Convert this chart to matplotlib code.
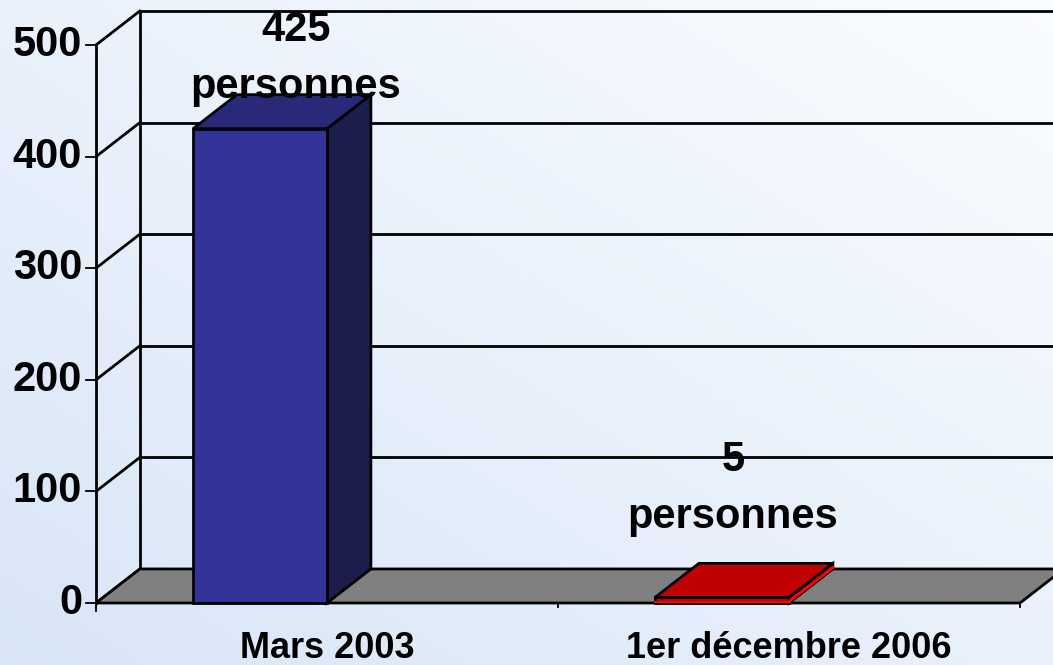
import matplotlib
matplotlib.use("Agg")
import matplotlib.pyplot as plt
import numpy as np
from matplotlib.patches import Polygon

# data
categories = ["Mars 2003", "1er décembre 2006"]
values = [425, 5]
value_labels = ["425\npersonnes", "5\npersonnes"]
y_ticks = [0, 100, 200, 300, 400, 500]

# look of each bar: front, top, side
bar_colors = [("#333399", "#29297A", "#1D1D4D"), ("#C00000", "#C00000", "#C00000")]
bar_edges = ["black", "black"]
# label placement relative to the bar (category units, value units)
label_dx = [-0.068, -0.121]
label_dy = [63, 98]

# 3d offsets (category units / value units)
DX = 0.095
DY = 30.5
BAR_W = 0.29
YMAX = 500

FONT = "Liberation Sans"

fig = plt.figure(figsize=(10.53, 6.65), dpi=100)

# background gradient
bg = fig.add_axes([0, 0, 1, 1], zorder=0)
gx, gy = np.meshgrid(np.linspace(0, 1, 200), np.linspace(0, 1, 200))
t = np.clip((gx + (1 - gy)) / 2, 0, 1)
c0 = np.array([0.85, 0.90, 0.97])
c1 = np.array([0.98, 0.99, 1.0])
img = c0[None, None, :] * (1 - t[..., None]) + c1[None, None, :] * t[..., None]
bg.imshow(img, extent=[0, 1, 0, 1], aspect="auto", origin="upper")
bg.axis("off")

ax = fig.add_axes([96 / 1053, (665 - 603) / 665, 924 / 1053, 558 / 665], zorder=1)
ax.set_xlim(0, len(categories))
ax.set_ylim(0, YMAX)
ax.patch.set_alpha(0)
for s in ax.spines.values():
    s.set_visible(False)
ax.set_xticks([])
ax.set_yticks([])

n = len(categories)
lw = 2.0

# floor
floor = Polygon([(0, 0), (n, 0), (n + DX, DY), (DX, DY)], closed=True,
                facecolor="#808080", edgecolor="black", lw=lw, clip_on=False, zorder=2)
ax.add_patch(floor)

# back wall gridlines + side wall diagonals
for v in y_ticks:
    if v > 0:
        ax.plot([DX, n + DX + 0.2], [v + DY, v + DY], color="black", lw=lw,
                clip_on=False, zorder=1.5)
    ax.plot([0, DX], [v, v + DY], color="black", lw=lw, clip_on=False, zorder=1.5)
ax.plot([DX, DX], [DY, YMAX + DY], color="black", lw=lw, clip_on=False, zorder=1.5)
ax.plot([0, 0], [0, YMAX], color="black", lw=lw, clip_on=False, zorder=4)

# y ticks
for v in y_ticks:
    ax.plot([-0.022, 0], [v, v], color="black", lw=1.3, clip_on=False, zorder=4)
    ax.text(-0.03, v, str(v), ha="right", va="center", fontsize=30,
            fontweight="bold", family=FONT)
ax.plot([0, 0], [0, -7], color="black", lw=1.3, clip_on=False, zorder=4)

# x axis ticks + labels
for i in range(n + 1):
    ax.plot([i, i], [0, -4], color="black", lw=1.3, clip_on=False, zorder=4)
for i, cat in enumerate(categories):
    ax.text(i + 0.5, -41, cat, ha="center", va="center", fontsize=26,
            fontweight="bold", family=FONT)

# bars
for i, (v, lab) in enumerate(zip(values, value_labels)):
    right = i + 0.5
    left = right - BAR_W
    front_c, top_c, side_c = bar_colors[i]
    ec = bar_edges[i]
    side = Polygon([(right, 0), (right + DX, DY), (right + DX, v + DY), (right, v)],
                   closed=True, facecolor=side_c, edgecolor=ec, lw=lw, zorder=3)
    top = Polygon([(left, v), (right, v), (right + DX, v + DY), (left + DX, v + DY)],
                  closed=True, facecolor=top_c, edgecolor=ec, lw=lw, zorder=3)
    front = Polygon([(left, 0), (right, 0), (right, v), (left, v)],
                    closed=True, facecolor=front_c, edgecolor=ec, lw=lw, zorder=3)
    for p in (side, top, front):
        p.set_clip_on(False)
        ax.add_patch(p)
    if v < 20:
        ax.plot([left, right], [1.2, 1.2], color="#FF0000", lw=2, zorder=3.5)
        ax.plot([right, right + DX], [1.2, DY + 1.2], color="#FF0000", lw=2, zorder=3.5)
    ax.text(right + label_dx[i], v + label_dy[i], lab,
            ha="center", va="center", fontsize=30, fontweight="bold", family=FONT,
            linespacing=1.55, zorder=5)

fig.savefig("out.png", dpi=100)
